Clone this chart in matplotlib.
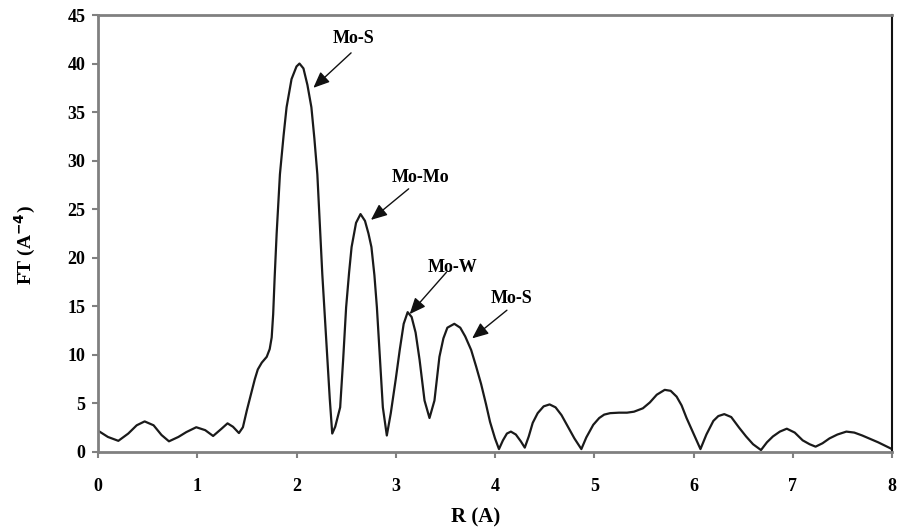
import matplotlib
matplotlib.use("Agg")
import matplotlib.pyplot as plt

r_vals = [0.0, 0.10, 0.205, 0.305, 0.39, 0.47, 0.56, 0.64, 0.715, 0.81, 0.89, 0.99, 1.08, 1.16,
          1.245, 1.305, 1.36, 1.42, 1.46, 1.50, 1.55, 1.58, 1.61, 1.65, 1.70, 1.73, 1.75, 1.765,
          1.78, 1.80, 1.833, 1.87, 1.90, 1.95, 2.00, 2.03, 2.07, 2.11, 2.15, 2.18, 2.21, 2.235,
          2.26, 2.285, 2.31, 2.335, 2.36, 2.39, 2.44, 2.47, 2.50, 2.53, 2.555, 2.60, 2.645, 2.69,
          2.725, 2.755, 2.785, 2.81, 2.84, 2.87, 2.91, 2.95, 3.00, 3.04, 3.08, 3.12, 3.16, 3.20,
          3.24, 3.29, 3.34, 3.39, 3.44, 3.48, 3.52, 3.59, 3.65, 3.70, 3.76, 3.81, 3.86, 3.91,
          3.95, 4.00, 4.04, 4.08, 4.12, 4.16, 4.21, 4.26, 4.30, 4.34, 4.38, 4.43, 4.49, 4.55,
          4.61, 4.67, 4.73, 4.80, 4.87, 4.92, 4.99, 5.05, 5.10, 5.16, 5.25, 5.33, 5.40, 5.49,
          5.56, 5.63, 5.71, 5.77, 5.83, 5.88, 5.93, 6.00, 6.07, 6.13, 6.20, 6.25, 6.31, 6.38,
          6.46, 6.53, 6.60, 6.68, 6.74, 6.80, 6.87, 6.94, 7.02, 7.10, 7.17, 7.23, 7.30, 7.37,
          7.45, 7.54, 7.62, 7.70, 7.78, 7.86, 7.93, 8.0]
ft_vals = [2.2, 1.55, 1.15, 1.9, 2.75, 3.15, 2.75, 1.75, 1.1, 1.55, 2.05, 2.55, 2.25, 1.65,
           2.4, 2.95, 2.6, 1.95, 2.55, 4.3, 6.3, 7.5, 8.5, 9.2, 9.8, 10.6, 11.8, 14.2,
           18.0, 22.5, 28.6, 32.6, 35.5, 38.4, 39.7, 40.0, 39.5, 37.8, 35.5, 32.3, 28.6, 23.5,
           18.3, 14.0, 9.8, 5.5, 1.9, 2.6, 4.6, 9.5, 14.9, 18.5, 21.1, 23.6, 24.5, 23.8,
           22.5, 21.1, 18.2, 14.9, 9.8, 4.6, 1.7, 4.0, 7.5, 10.5, 13.2, 14.4, 13.9, 12.3,
           9.5, 5.3, 3.5, 5.3, 9.8, 11.7, 12.8, 13.2, 12.8, 11.9, 10.5, 8.8, 7.0, 4.9,
           3.1, 1.4, 0.3, 1.2, 1.9, 2.1, 1.8, 1.1, 0.45, 1.6, 3.0, 4.0, 4.7, 4.9,
           4.6, 3.8, 2.7, 1.4, 0.3, 1.5, 2.8, 3.5, 3.85, 4.0, 4.05, 4.05, 4.15, 4.5,
           5.1, 5.9, 6.4, 6.3, 5.7, 4.8, 3.5, 1.9, 0.3, 1.8, 3.2, 3.7, 3.9, 3.6,
           2.5, 1.6, 0.8, 0.2, 1.0, 1.6, 2.1, 2.4, 2.0, 1.2, 0.8, 0.55, 0.9, 1.4,
           1.8, 2.1, 2.0, 1.7, 1.35, 1.0, 0.65, 0.3]

labels = ["Mo-S", "Mo-Mo", "Mo-W", "Mo-S"]
label_xy = [(2.57, 42.6), (3.25, 28.3), (3.57, 19.0), (4.17, 15.8)]
arrow_tail = [(2.55, 41.1), (3.13, 27.1), (3.51, 18.5), (4.12, 14.6)]
arrow_head = [(2.17, 37.5), (2.75, 23.9), (3.14, 14.2), (3.77, 11.7)]

x_ticks = [0, 1, 2, 3, 4, 5, 6, 7, 8]
y_ticks = [0, 5, 10, 15, 20, 25, 30, 35, 40, 45]

plt.rcParams['font.family'] = ['Liberation Serif', 'DejaVu Serif']
plt.rcParams['font.weight'] = 'bold'

fig = plt.figure(figsize=(8.97, 5.29), dpi=100)
ax = fig.add_axes([98/897, 1 - 452/529, (892 - 98)/897, (452 - 15)/529])

ax.plot(r_vals, ft_vals, color='#1a1a1a', lw=1.6, solid_joinstyle='round', solid_capstyle='round')

for lab, lxy, t, h in zip(labels, label_xy, arrow_tail, arrow_head):
    ax.text(lxy[0], lxy[1], lab, ha='center', va='center', fontsize=13, fontweight='bold')
    ax.annotate('', xy=h, xytext=t,
                arrowprops=dict(arrowstyle='-|>,head_length=0.7,head_width=0.3', color='#111111',
                                lw=1.0, mutation_scale=14, shrinkA=0, shrinkB=0))

ax.set_xlim(0, 8)
ax.set_ylim(0, 45)
ax.set_xticks(x_ticks)
ax.set_yticks(y_ticks)
ax.set_xticklabels([str(v) for v in x_ticks], fontsize=13, fontweight='bold')
ax.set_yticklabels([str(v) for v in y_ticks], fontsize=13, fontweight='bold')
ax.tick_params(axis='x', direction='out', length=4, width=1.5, color='#808080', pad=15)
ax.tick_params(axis='y', direction='out', length=4, width=1.5, color='#808080', pad=5)
for s in ['left', 'bottom', 'top']:
    ax.spines[s].set_color('#808080')
    ax.spines[s].set_linewidth(2)
ax.spines['right'].set_color('#111111')
ax.spines['right'].set_linewidth(1.5)

fig.text(476/897, 1 - 517/529, 'R (A)', ha='center', va='center', fontsize=15, fontweight='bold')
fig.text(25/897, 1 - 245/529, r'FT (A$^{\mathbf{-4}}$)', ha='center', va='center',
         rotation=90, fontsize=14, fontweight='bold')

fig.savefig('out.png', dpi=100)
